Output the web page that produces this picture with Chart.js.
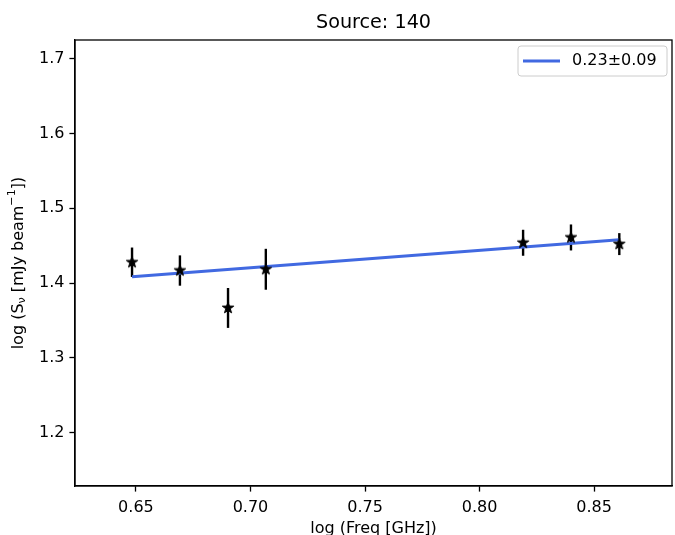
<!DOCTYPE html>
<html>
<head>
<meta charset="utf-8">
<script src="https://cdn.jsdelivr.net/npm/chart.js@4"></script>
<style>
  html, body { margin: 0; padding: 0; background: #fff; }
</style>
</head>
<body>
<canvas id="chart" width="675" height="535"></canvas>
<script>
// ---- data ----
const logFreq = [0.6483, 0.6692, 0.6902, 0.7067, 0.8190, 0.8399, 0.8610];
const logFlux = [1.4278, 1.4167, 1.3666, 1.4184, 1.4539, 1.4610, 1.4521];
const fluxErr = [0.0197, 0.0203, 0.0267, 0.0274, 0.0174, 0.0174, 0.0147];
const fitX = [0.6483, 0.8610];
const fitY = [1.4084, 1.4579];
const fitLabel = '0.23\u00b10.09';
const xTicks = [0.65, 0.70, 0.75, 0.80, 0.85];
const yTicks = [1.2, 1.3, 1.4, 1.5, 1.6, 1.7];

const FONT = 'DejaVu Sans';

// filled five point star, like matplotlib's '*'
function makeStar(r) {
    const size = Math.ceil(r * 2 + 2);
    const c = document.createElement('canvas');
    c.width = c.height = size;
    const g = c.getContext('2d');
    g.translate(size / 2, size / 2);
    g.beginPath();
    for (let i = 0; i < 10; i++) {
        const rad = i % 2 ? r * 0.4 : r;
        const a = -Math.PI / 2 + i * Math.PI / 5;
        g.lineTo(rad * Math.cos(a), rad * Math.sin(a));
    }
    g.closePath();
    g.fillStyle = '#000';
    g.fill();
    g.strokeStyle = '#000';
    g.lineWidth = 1;
    g.stroke();
    return c;
}

// error bars, frame, title, y label, legend
const extras = {
    id: 'extras',
    beforeDatasetsDraw(chart) {
        const ctx = chart.ctx;
        const x = chart.scales.x, y = chart.scales.y;
        ctx.save();
        ctx.strokeStyle = '#000';
        ctx.lineWidth = 2.4;
        logFreq.forEach((f, i) => {
            const px = x.getPixelForValue(f);
            ctx.beginPath();
            ctx.moveTo(px, y.getPixelForValue(logFlux[i] - fluxErr[i]));
            ctx.lineTo(px, y.getPixelForValue(logFlux[i] + fluxErr[i]));
            ctx.stroke();
        });
        ctx.restore();
    },
    afterDraw(chart) {
        const ctx = chart.ctx;
        const a = chart.chartArea;
        ctx.save();

        // full box around the axes
        ctx.strokeStyle = '#000';
        ctx.lineWidth = 1.3;
        ctx.strokeRect(a.left, a.top, a.right - a.left, a.bottom - a.top);

        // title
        ctx.fillStyle = '#000';
        ctx.font = '19.2px "' + FONT + '"';
        ctx.textAlign = 'center';
        ctx.textBaseline = 'middle';
        ctx.fillText('Source: 140', (a.left + a.right) / 2, 23);

        // y title with sub/superscript
        const size = 16, small = 11.2;
        const parts = [
            { t: 'log (S', s: size, dy: 0 },
            { t: '\u03bd', s: small, dy: 3.5 },
            { t: ' [mJy beam', s: size, dy: 0 },
            { t: '\u22121', s: small, dy: -6.5 },
            { t: '])', s: size, dy: 0 }
        ];
        let total = 0;
        parts.forEach(p => {
            ctx.font = p.s + 'px "' + FONT + '"';
            p.w = ctx.measureText(p.t).width;
            total += p.w;
        });
        ctx.translate(19, (a.top + a.bottom) / 2);
        ctx.rotate(-Math.PI / 2);
        ctx.textAlign = 'left';
        ctx.textBaseline = 'middle';
        let cx = -total / 2;
        parts.forEach(p => {
            ctx.font = p.s + 'px "' + FONT + '"';
            ctx.fillText(p.t, cx, p.dy);
            cx += p.w;
        });
        ctx.setTransform(1, 0, 0, 1, 0, 0);

        // legend box
        const lx = 518, ly = 46, lw = 149, lh = 30;
        ctx.beginPath();
        ctx.roundRect(lx, ly, lw, lh, 3);
        ctx.fillStyle = 'rgba(255,255,255,0.8)';
        ctx.fill();
        ctx.strokeStyle = '#cccccc';
        ctx.lineWidth = 1;
        ctx.stroke();
        ctx.beginPath();
        ctx.moveTo(lx + 5, 61);
        ctx.lineTo(lx + 42, 61);
        ctx.strokeStyle = '#4169e1';
        ctx.lineWidth = 3;
        ctx.stroke();
        ctx.fillStyle = '#000';
        ctx.font = '16px "' + FONT + '"';
        ctx.textAlign = 'left';
        ctx.textBaseline = 'middle';
        ctx.fillText(fitLabel, lx + 54, 61);

        ctx.restore();
    }
};

const tickFont = { family: FONT, size: 16 };

new Chart(document.getElementById('chart'), {
    type: 'scatter',
    data: {
        datasets: [{
            label: 'data',
            data: logFreq.map((f, i) => ({ x: f, y: logFlux[i] })),
            pointStyle: makeStar(6),
            pointRadius: 6,
            showLine: false
        }, {
            label: fitLabel,
            data: fitX.map((f, i) => ({ x: f, y: fitY[i] })),
            showLine: true,
            borderColor: '#4169e1',
            borderWidth: 3,
            pointRadius: 0,
            fill: false
        }]
    },
    options: {
        responsive: false,
        animation: false,
        layout: { autoPadding: false, padding: { top: 40, right: 3, left: 0, bottom: 0 } },
        plugins: {
            legend: { display: false },
            tooltip: { enabled: false }
        },
        scales: {
            x: {
                type: 'linear',
                min: 0.6234,
                max: 0.884,
                afterBuildTicks: s => { s.ticks = xTicks.map(v => ({ value: v })); },
                afterFit: s => { s.height = 49; },
                ticks: {
                    callback: v => v.toFixed(2),
                    color: '#000',
                    font: tickFont,
                    padding: 7,
                    maxRotation: 0,
                    autoSkip: false
                },
                grid: { drawOnChartArea: false, tickLength: 5.6, color: '#000', tickWidth: 1.3 },
                border: { color: '#000', width: 1.3 },
                title: {
                    display: true,
                    text: 'log (Freq [GHz])',
                    color: '#000',
                    font: tickFont,
                    padding: { top: 0, bottom: -3 }
                }
            },
            y: {
                type: 'linear',
                min: 1.1282,
                max: 1.7254,
                afterBuildTicks: s => { s.ticks = yTicks.map(v => ({ value: v })); },
                afterFit: s => { s.width = 75; },
                ticks: {
                    callback: v => v.toFixed(1),
                    color: '#000',
                    font: tickFont,
                    padding: 5,
                    autoSkip: false
                },
                grid: { drawOnChartArea: false, tickLength: 5.6, color: '#000', tickWidth: 1.3 },
                border: { color: '#000', width: 1.3 }
            }
        }
    },
    plugins: [extras]
});
</script>
</body>
</html>
